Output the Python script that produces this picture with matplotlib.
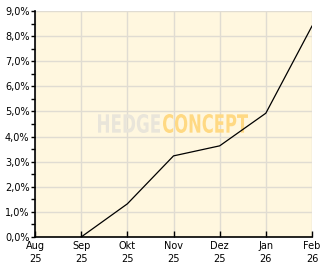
import matplotlib
matplotlib.use("Agg")
import matplotlib.pyplot as plt
from matplotlib.ticker import MultipleLocator, FuncFormatter
from matplotlib.textpath import TextPath
from matplotlib.patches import PathPatch
from matplotlib.font_manager import FontProperties
from matplotlib.transforms import Affine2D, IdentityTransform

# -------- DATA ----------
months = ["Aug\n25", "Sep\n25", "Okt\n25", "Nov\n25", "Dez\n25", "Jan\n26", "Feb\n26"]
perf_x = [1, 2, 3, 4, 5, 6]          # line starts at Sep
perf_y = [0.0, 1.32, 3.23, 3.63, 4.93, 8.40]
# ------------------------

BG = "#FFF7DF"
GRID = "#E0DCD2"

fig = plt.figure(figsize=(3.32, 2.69), dpi=100)
ax = fig.add_axes([35 / 332, 32 / 269, 277 / 332, 226 / 269])
ax.set_facecolor(BG)

ax.plot(perf_x, perf_y, color="black", lw=0.9, zorder=3)

ax.set_xlim(0, 6)
ax.set_ylim(0, 9)
ax.set_xticks(range(len(months)))
ax.set_xticklabels(months, fontsize=7, linespacing=1.35)
ax.yaxis.set_major_locator(MultipleLocator(1))
ax.yaxis.set_minor_locator(MultipleLocator(0.5))
ax.yaxis.set_major_formatter(FuncFormatter(lambda v, p: f"{v:.1f}%".replace(".", ",")))
ax.tick_params(axis="y", which="both", direction="out", length=3, width=1, labelsize=7, pad=1)
ax.tick_params(axis="x", direction="in", length=4, width=1, pad=3)

ax.grid(True, color=GRID, lw=1, zorder=0)
ax.set_axisbelow(True)
for s in ["top", "right"]:
    ax.spines[s].set_visible(False)
for s in ["left", "bottom"]:
    ax.spines[s].set_linewidth(1.2)


# watermark: squeezed bold text fitted into a pixel box (x0, x1, y0, y1 from bottom)
def watermark(word, box, color):
    tp = TextPath((0, 0), word, size=10, prop=FontProperties(family="DejaVu Sans", weight="bold"))
    ext = tp.get_extents()
    x0, x1, y0, y1 = box
    tr = (Affine2D().translate(-ext.x0, -ext.y0)
          .scale((x1 - x0) / ext.width, (y1 - y0) / ext.height)
          .translate(x0, y0))
    patch = PathPatch(tr.transform_path(tp), facecolor=color, edgecolor="none",
                      transform=IdentityTransform(), zorder=1)
    ax.add_artist(patch)


watermark("HEDGE", (98, 160, 136, 155), "#E9E5DA")
watermark("CONCEPT", (163, 248, 136, 155), "#FFD983")

fig.savefig("out.png", dpi=100)
